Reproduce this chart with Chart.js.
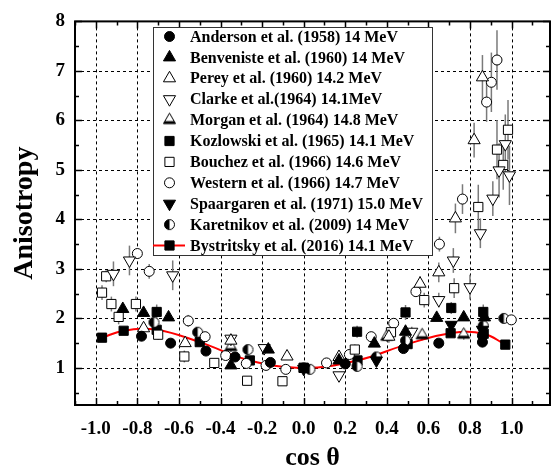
<!DOCTYPE html>
<html>
<head>
<meta charset="utf-8">
<script src="https://cdn.jsdelivr.net/npm/chart.js@4.4.0/dist/chart.umd.min.js"></script>
<style>
  html, body { margin: 0; padding: 0; background: #fff; }
  #wrap { width: 558px; height: 466px; }
</style>
</head>
<body>
<div id="wrap"><canvas id="chart" width="558" height="466"></canvas></div>
<script>
// Ejes
const xTicks = [-1.0, -0.8, -0.6, -0.4, -0.2, 0.0, 0.2, 0.4, 0.6, 0.8, 1.0];
const yTicks = [1, 2, 3, 4, 5, 6, 7, 8];

// Anderson et al. (1958) 14 MeV
const andersonX = [-0.78, -0.64, -0.47, -0.33, -0.16, 0.00, 0.20, 0.48, 0.65, 0.86, 0.86];
const andersonY = [1.64, 1.50, 1.34, 1.22, 1.11, 1.00, 1.08, 1.39, 1.50, 1.52, 1.65];

// Benveniste et al. (1960) 14 MeV
const benvenisteX = [-0.87, -0.77, -0.65, -0.35, -0.17, 0.17, 0.34, 0.49, 0.64, 0.77, 0.87];
const benvenisteY = [2.19, 2.11, 2.02, 1.05, 1.37, 1.15, 1.49, 1.73, 2.01, 2.02, 2.02];

// Perey et al. (1960) 14.2 MeV
const pereyX = [-0.77, -0.57, -0.35, -0.08, 0.17, 0.41, 0.56, 0.65, 0.73, 0.82, 0.86];
const pereyY = [1.80, 1.50, 1.55, 1.23, 1.22, 1.63, 2.70, 2.93, 4.02, 5.60, 6.87];
const pereyErr = [0, 0, 0.08, 0, 0, 0.12, 0.15, 0.2, 0.3, 0.35, 0.45];

// Clarke et al.(1964) 14.1MeV
const clarkeX = [-0.915, -0.838, -0.63, -0.35, -0.19, 0.17, 0.52, 0.65, 0.72, 0.80, 0.85, 0.91, 0.94, 0.97, 0.99];
const clarkeY = [2.90, 3.17, 2.87, 1.59, 1.40, 0.85, 1.73, 2.37, 3.17, 2.63, 3.72, 4.42, 4.99, 5.52, 4.89];
const clarkeErr = [0.25, 0.3, 0.3, 0.08, 0.08, 0, 0.1, 0.15, 0.25, 0.25, 0.3, 0.35, 0.55, 0.6, 0.6];

// Morgan et al. (1964) 14.8 MeV
const morganX = [-0.35, 0.40, 0.57, 0.77];
const morganY = [1.42, 1.63, 1.66, 1.67];
const morganErr = [0.1, 0.1, 0.1, 0.1];

// Kozlowski et al. (1965) 14.1 MeV
const kozlowskiX = [-0.707, 0.0, 0.257, 0.49, 0.71, 0.864];
const kozlowskiY = [2.13, 1.0, 1.73, 2.12, 2.21, 2.13];
const kozlowskiErr = [0.15, 0, 0.12, 0.15, 0.12, 0.15];

// Bouchez et al. (1966) 14.6 MeV
const bouchezX = [-0.97, -0.95, -0.925, -0.89, -0.807, -0.70, -0.574, -0.43, -0.272, -0.102, 0.246, 0.42, 0.58, 0.724, 0.84, 0.93, 0.96, 0.983];
const bouchezY = [2.52, 2.85, 2.29, 2.03, 2.29, 1.67, 1.23, 1.10, 0.74, 0.73, 1.37, 1.72, 2.37, 2.61, 4.25, 5.41, 5.10, 5.81];
const bouchezErr = [0.15, 0.12, 0.15, 0.15, 0.15, 0.1, 0.12, 0, 0, 0, 0.1, 0.12, 0.15, 0.2, 0.45, 0.6, 0.5, 0.6];

// Western et al. (1966) 14.7 MeV
const westernX = [-0.80, -0.743, -0.555, -0.474, -0.375, -0.276, -0.181, -0.086, 0.11, 0.22, 0.325, 0.433, 0.54, 0.653, 0.764, 0.88, 0.903, 0.93, 0.999];
const westernY = [3.31, 2.95, 1.95, 1.63, 1.25, 1.09, 1.05, 0.97, 1.10, 1.27, 1.63, 1.90, 2.54, 3.50, 4.41, 6.37, 6.77, 7.22, 1.97];
const westernErr = [0.1, 0.15, 0.12, 0.05, 0, 0, 0, 0, 0, 0, 0.05, 0.08, 0.1, 0.15, 0.3, 0.4, 0.6, 0.6, 0];

// Spaargaren et al. (1971) 15.0 MeV
const spaargarenX = [0.0, 0.35, 0.71, 0.86];
const spaargarenY = [0.98, 1.15, 1.87, 1.77];

// Karetnikov et al. (2009) 14 MeV
const karetnikovX = [-0.72, -0.51, -0.268, 0.03, 0.257, 0.35, 0.49, 0.864, 0.963];
const karetnikovY = [1.92, 1.72, 1.37, 0.97, 1.03, 1.22, 1.55, 1.85, 2.0];

// Bystritsky et al. (2016) 14.1 MeV
const bystritskyX = [-0.97, -0.866, -0.707, -0.5, -0.259, 0, 0.259, 0.5, 0.707, 0.866, 0.97];
const bystritskyY = [1.61, 1.75, 1.77, 1.52, 1.15, 1.0, 1.15, 1.48, 1.70, 1.69, 1.47];

const FONT = "'Liberation Serif', 'Times New Roman', serif";

// Marcadores especiales
function halfCircle(r) {
    const c = document.createElement('canvas');
    const s = Math.ceil(r * 2 + 3);
    c.width = c.height = s;
    const g = c.getContext('2d');
    const m = s / 2;
    g.beginPath(); g.arc(m, m, r, 0, 2 * Math.PI); g.fillStyle = '#fff'; g.fill();
    g.beginPath(); g.moveTo(m, m - r); g.arc(m, m, r, -Math.PI / 2, Math.PI / 2, true); g.closePath();
    g.fillStyle = '#000'; g.fill();
    g.beginPath(); g.arc(m, m, r, 0, 2 * Math.PI); g.lineWidth = 1; g.strokeStyle = '#000'; g.stroke();
    return c;
}

function morganTriangle(r) {
    const c = document.createElement('canvas');
    const s = Math.ceil(r * 2 + 3);
    c.width = c.height = s;
    const g = c.getContext('2d');
    const m = s / 2;
    const h = r * Math.sin(Math.PI / 3);
    const top = [m, m - r], bl = [m - h, m + r / 2], br = [m + h, m + r / 2];
    g.beginPath(); g.moveTo(...top); g.lineTo(...bl); g.lineTo(...br); g.closePath();
    g.fillStyle = '#fff'; g.fill();
    // mitad inferior rellena
    const midY = m + r / 8;
    const k = (midY - top[1]) / (bl[1] - top[1]);
    g.beginPath();
    g.moveTo(m - h * k, midY); g.lineTo(m + h * k, midY); g.lineTo(...br); g.lineTo(...bl); g.closePath();
    g.fillStyle = '#000'; g.fill();
    g.beginPath(); g.moveTo(...top); g.lineTo(...bl); g.lineTo(...br); g.closePath();
    g.lineWidth = 1; g.strokeStyle = '#000'; g.stroke();
    return c;
}

const halfCircleImg = halfCircle(5);
const morganImg = morganTriangle(7);

function pts(xs, ys) {
    return xs.map((x, i) => ({ x: x, y: ys[i] }));
}

function series(label, xs, ys, errs, style) {
    return Object.assign({
        label: label,
        data: pts(xs, ys),
        errors: errs || null,
        showLine: false,
        borderColor: '#000',
        borderWidth: 1,
        pointBorderColor: '#000',
        pointBorderWidth: 1
    }, style);
}

const datasets = [
    series('Anderson et al. (1958) 14 MeV', andersonX, andersonY, null,
        { pointStyle: 'circle', pointRadius: 5, pointBackgroundColor: '#000' }),
    series('Benveniste et al. (1960) 14 MeV', benvenisteX, benvenisteY, null,
        { pointStyle: 'triangle', pointRadius: 7, pointBackgroundColor: '#000' }),
    series('Perey et al. (1960) 14.2 MeV', pereyX, pereyY, pereyErr,
        { pointStyle: 'triangle', pointRadius: 7, pointBackgroundColor: '#fff' }),
    series('Clarke et al.(1964) 14.1MeV', clarkeX, clarkeY, clarkeErr,
        { pointStyle: 'triangle', pointRotation: 180, pointRadius: 7, pointBackgroundColor: '#fff' }),
    series('Morgan et al. (1964) 14.8 MeV', morganX, morganY, morganErr,
        { pointStyle: morganImg, pointRadius: 7, pointBackgroundColor: '#fff' }),
    series('Kozlowski et al. (1965) 14.1 MeV', kozlowskiX, kozlowskiY, kozlowskiErr,
        { pointStyle: 'rect', pointRadius: 6.5, pointBackgroundColor: '#000' }),
    series('Bouchez et al. (1966) 14.6 MeV', bouchezX, bouchezY, bouchezErr,
        { pointStyle: 'rect', pointRadius: 6.5, pointBackgroundColor: '#fff' }),
    series('Western et al. (1966) 14.7 MeV', westernX, westernY, westernErr,
        { pointStyle: 'circle', pointRadius: 5, pointBackgroundColor: '#fff' }),
    series('Spaargaren et al. (1971) 15.0 MeV', spaargarenX, spaargarenY, null,
        { pointStyle: 'triangle', pointRotation: 180, pointRadius: 7, pointBackgroundColor: '#000' }),
    series('Karetnikov et al. (2009) 14 MeV', karetnikovX, karetnikovY, null,
        { pointStyle: halfCircleImg, pointRadius: 5, pointBackgroundColor: '#fff' }),
    series('Bystritsky et al. (2016) 14.1 MeV', bystritskyX, bystritskyY, null,
        { showLine: true, borderColor: '#ff0000', borderWidth: 2, tension: 0.4,
          pointStyle: 'rect', pointRadius: 6.5, pointBackgroundColor: '#000' })
];

// Dibujar un marcador (para la leyenda)
function drawMarker(ctx, ds, x, y) {
    const style = ds.pointStyle;
    const r = ds.pointRadius;
    ctx.save();
    ctx.fillStyle = ds.pointBackgroundColor;
    ctx.strokeStyle = '#000';
    ctx.lineWidth = 1;
    if (style instanceof HTMLCanvasElement) {
        ctx.drawImage(style, x - style.width / 2, y - style.height / 2);
    } else if (style === 'circle') {
        ctx.beginPath(); ctx.arc(x, y, r, 0, 2 * Math.PI); ctx.fill(); ctx.stroke();
    } else if (style === 'rect') {
        const s = r * Math.SQRT1_2;
        ctx.beginPath(); ctx.rect(x - s, y - s, 2 * s, 2 * s); ctx.fill(); ctx.stroke();
    } else if (style === 'triangle') {
        const dir = ds.pointRotation === 180 ? -1 : 1;
        const h = r * Math.sin(Math.PI / 3);
        ctx.beginPath();
        ctx.moveTo(x, y - dir * r);
        ctx.lineTo(x - h, y + dir * r / 2);
        ctx.lineTo(x + h, y + dir * r / 2);
        ctx.closePath(); ctx.fill(); ctx.stroke();
    }
    ctx.restore();
}

// Rejilla, borde, marcas interiores y barras de error
const framePlugin = {
    id: 'frame',
    beforeDatasetsDraw(chart) {
        const ctx = chart.ctx;
        const xs = chart.scales.x, ys = chart.scales.y;
        const a = chart.chartArea;
        ctx.save();
        ctx.strokeStyle = '#000';
        ctx.lineWidth = 1;
        ctx.setLineDash([3, 3]);
        xTicks.forEach(v => {
            const px = Math.round(xs.getPixelForValue(v)) + 0.5;
            ctx.beginPath(); ctx.moveTo(px, a.top); ctx.lineTo(px, a.bottom); ctx.stroke();
        });
        yTicks.forEach(v => {
            const py = Math.round(ys.getPixelForValue(v)) + 0.5;
            ctx.beginPath(); ctx.moveTo(a.left, py); ctx.lineTo(a.right, py); ctx.stroke();
        });
        ctx.setLineDash([]);
        // barras de error
        ctx.strokeStyle = '#7a7a7a';
        ctx.lineWidth = 1.5;
        chart.data.datasets.forEach((ds, i) => {
            if (!ds.errors) return;
            ds.data.forEach((p, j) => {
                const e = ds.errors[j];
                if (!e) return;
                const px = xs.getPixelForValue(p.x);
                ctx.beginPath();
                ctx.moveTo(px, ys.getPixelForValue(p.y - e));
                ctx.lineTo(px, ys.getPixelForValue(p.y + e));
                ctx.stroke();
            });
        });
        ctx.restore();
    },
    afterDatasetsDraw(chart) {
        const ctx = chart.ctx;
        const xs = chart.scales.x, ys = chart.scales.y;
        const a = chart.chartArea;
        ctx.save();
        ctx.strokeStyle = '#000';
        ctx.lineWidth = 1.5;
        // marcas en x (mayores cada 0.2, menores cada 0.1)
        for (let k = -11; k <= 11; k++) {
            const v = k / 10;
            const major = k % 2 === 0;
            const len = major ? 7 : 4;
            const px = Math.round(xs.getPixelForValue(v)) + 0.5;
            ctx.beginPath();
            ctx.moveTo(px, a.bottom); ctx.lineTo(px, a.bottom - len);
            ctx.moveTo(px, a.top); ctx.lineTo(px, a.top + len);
            ctx.stroke();
        }
        // marcas en y (mayores cada 1, menores cada 0.5)
        for (let k = 1; k <= 16; k++) {
            const v = k / 2;
            const major = k % 2 === 0;
            const len = major ? 7 : 4;
            const py = Math.round(ys.getPixelForValue(v)) + 0.5;
            ctx.beginPath();
            ctx.moveTo(a.left, py); ctx.lineTo(a.left + len, py);
            ctx.moveTo(a.right, py); ctx.lineTo(a.right - len, py);
            ctx.stroke();
        }
        ctx.lineWidth = 2;
        ctx.strokeRect(a.left, a.top, a.right - a.left, a.bottom - a.top);
        ctx.restore();
    }
};

// Leyenda dentro del area del grafico
const legendPlugin = {
    id: 'insideLegend',
    afterDraw(chart) {
        const ctx = chart.ctx;
        const box = { left: 153, top: 27, right: 432, bottom: 255 };
        ctx.save();
        ctx.fillStyle = '#fff';
        ctx.fillRect(box.left, box.top, box.right - box.left, box.bottom - box.top);
        ctx.strokeStyle = '#333';
        ctx.lineWidth = 1;
        ctx.strokeRect(box.left + 0.5, box.top + 0.5, box.right - box.left, box.bottom - box.top);
        ctx.font = 'bold 16px ' + FONT;
        ctx.textBaseline = 'middle';
        ctx.textAlign = 'left';
        chart.data.datasets.forEach((ds, i) => {
            const y = 36.5 + i * 20.9;
            if (ds.showLine) {
                ctx.strokeStyle = ds.borderColor;
                ctx.lineWidth = 2;
                ctx.beginPath(); ctx.moveTo(box.left, y); ctx.lineTo(185, y); ctx.stroke();
            }
            drawMarker(ctx, ds, 169.5, y);
            ctx.fillStyle = '#000';
            ctx.fillText(ds.label, 190, y + 1);
        });
        ctx.restore();
    }
};

new Chart(document.getElementById('chart'), {
    type: 'scatter',
    data: { datasets: datasets },
    options: {
        responsive: false,
        animation: false,
        devicePixelRatio: 1,
        events: [],
        layout: { padding: { left: 0, right: 2, top: 18, bottom: 0 } },
        plugins: { legend: { display: false }, tooltip: { enabled: false } },
        scales: {
            x: {
                type: 'linear',
                min: -1.1,
                max: 1.185,
                afterBuildTicks: s => { s.ticks = xTicks.map(v => ({ value: v })); },
                afterFit: s => { s.height = 61; },
                grid: { display: false, drawTicks: false },
                border: { display: false },
                ticks: {
                    color: '#000',
                    padding: 13,
                    maxRotation: 0,
                    font: { family: FONT, size: 19, weight: 'bold' },
                    callback: v => v.toFixed(1)
                },
                title: {
                    display: true,
                    text: 'cos θ',
                    color: '#000',
                    padding: { top: 0, bottom: 0 },
                    font: { family: FONT, size: 26, weight: 'bold', lineHeight: 0.6 }
                }
            },
            y: {
                type: 'linear',
                min: 0.25,
                max: 8,
                afterBuildTicks: s => { s.ticks = yTicks.map(v => ({ value: v })); },
                afterFit: s => { s.width = 75; },
                grid: { display: false, drawTicks: false },
                border: { display: false },
                ticks: {
                    color: '#000',
                    padding: 10,
                    font: { family: FONT, size: 19, weight: 'bold' },
                    callback: v => String(v)
                },
                title: {
                    display: true,
                    text: 'Anisotropy',
                    color: '#000',
                    padding: { top: 8, bottom: 0 },
                    font: { family: FONT, size: 28, weight: 'bold' }
                }
            }
        }
    },
    plugins: [framePlugin, legendPlugin]
});
</script>
</body>
</html>
